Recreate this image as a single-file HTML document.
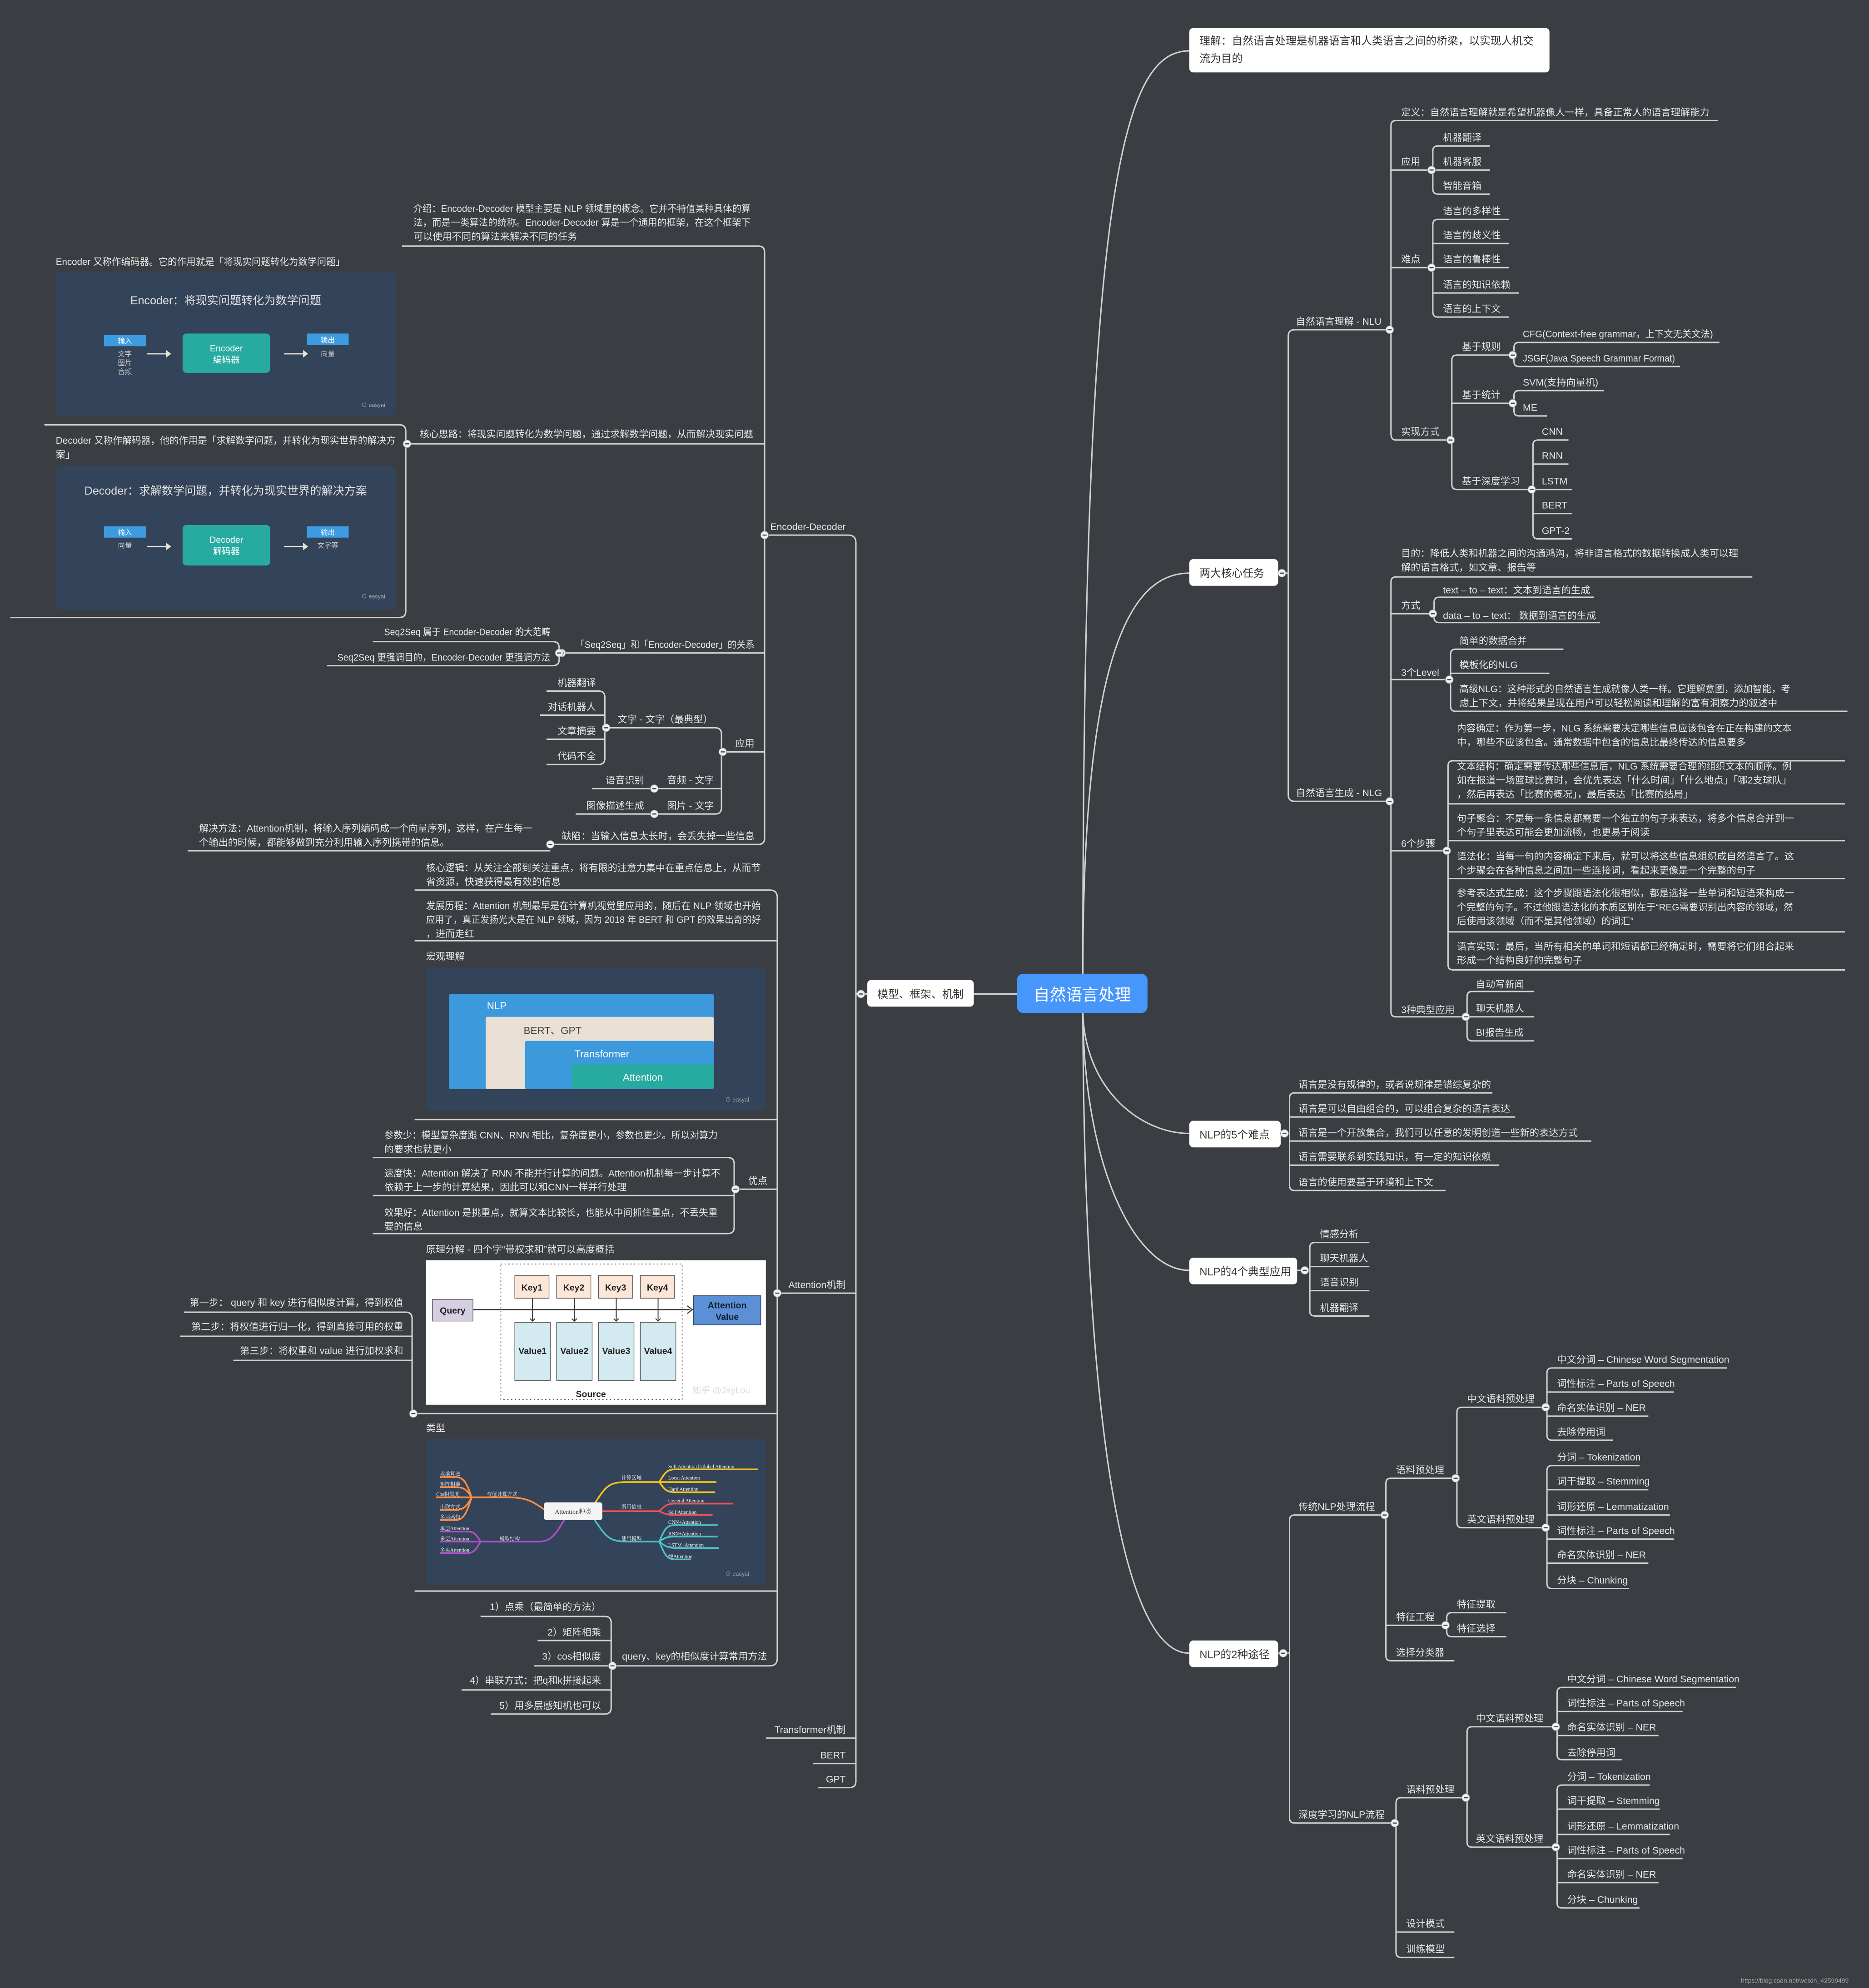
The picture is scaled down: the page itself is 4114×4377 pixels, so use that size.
<!DOCTYPE html>
<html><head><meta charset="utf-8"><style>
html,body{margin:0;padding:0;background:#3a3d42;}
svg{display:block}
.t{font-family:"Liberation Sans","Noto Sans CJK SC",sans-serif;font-size:7.6px;fill:#e6e6e6}
.e{text-anchor:end}
.n{font-family:"Liberation Sans","Noto Sans CJK SC",sans-serif;font-size:8.5px;fill:#333}
.l{stroke:#d2d2d2;stroke-width:1.1;fill:none}
.s{font-family:"Liberation Sans","Noto Sans CJK SC",sans-serif}
</style></head><body>
<svg width="4114" height="4377" viewBox="0 0 1474 1568" xmlns="http://www.w3.org/2000/svg">
<defs>
<g id="d"><circle r="3.1" fill="#f2f2f2" stroke="#888" stroke-width=".4"/><line x1="-1.6" x2="1.6" stroke="#444" stroke-width=".9"/></g>
</defs>
<rect width="1474" height="1568" fill="#3a3d42"/>

<!-- central curves -->
<path class="l" d="M854,768 C854,150 885,40 938,40"/>
<path class="l" d="M854,768 C854,520 890,452 938,452"/>
<path class="l" d="M854,799 C856,860 900,894 938,894"/>
<path class="l" d="M854,799 C855,920 895,1002 938,1002"/>
<path class="l" d="M854,799 C855,1100 882,1304 938,1304"/>
<path class="l" d="M768,784 H802"/>

<!-- central node -->
<rect x="802" y="768" width="103" height="31" rx="5" fill="#4796fa"/>
<text x="853.5" y="789" text-anchor="middle" class="s" font-size="12.8" fill="#fff">自然语言处理</text>

<!-- top-level nodes -->
<rect x="938" y="22" width="284" height="35" rx="3" fill="#fff"/>
<text x="946" y="35" class="n" font-size="8.2">理解：自然语言处理是机器语言和人类语言之间的桥梁，以实现人机交</text>
<text x="946" y="49" class="n" font-size="8.2">流为目的</text>
<rect x="938" y="441" width="70" height="21" rx="3" fill="#fff"/><text x="946" y="455" class="n">两大核心任务</text>
<rect x="938" y="884" width="72" height="21" rx="3" fill="#fff"/><text x="946" y="898" class="n">NLP的5个难点</text>
<rect x="938" y="992" width="85" height="21" rx="3" fill="#fff"/><text x="946" y="1006" class="n">NLP的4个典型应用</text>
<rect x="938" y="1294" width="70" height="21" rx="3" fill="#fff"/><text x="946" y="1308" class="n">NLP的2种途径</text>
<rect x="684" y="773" width="84" height="21" rx="3" fill="#fff"/><text x="692" y="787" class="n">模型、框架、机制</text>

<!-- ===== 两大核心任务 ===== -->
<path class="l" d="M1008,452 H1016 M1096,260 H1021 Q1016,260 1016,265 V627 Q1016,632 1021,632 H1097"/>
<text x="1022" y="256" class="t">自然语言理解 - NLU</text>
<text x="1022" y="628" class="t">自然语言生成 - NLG</text>
<!-- NLU -->
<path class="l" d="M1355,95 H1101 Q1097,95 1097,99 V342 Q1097,347 1101,347 H1144 M1097,134 H1129 M1097,211 H1129"/>
<text x="1105" y="91" class="t">定义：自然语言理解就是希望机器像人一样，具备正常人的语言理解能力</text>
<text x="1105" y="130" class="t">应用</text>
<text x="1105" y="207" class="t">难点</text>
<text x="1105" y="343" class="t">实现方式</text>
<path class="l" d="M1175,115 H1134 Q1130,115 1130,119 V149 Q1130,153 1134,153 H1175 M1130,134 H1175"/>
<text x="1138" y="111" class="t">机器翻译</text><text x="1138" y="130" class="t">机器客服</text><text x="1138" y="149" class="t">智能音箱</text>
<path class="l" d="M1190,173 H1134 Q1130,173 1130,177 V246 Q1130,250 1134,250 H1190 M1130,192 H1190 M1130,211 H1190 M1130,231 H1198"/>
<text x="1138" y="169" class="t">语言的多样性</text><text x="1138" y="188" class="t">语言的歧义性</text><text x="1138" y="207" class="t">语言的鲁棒性</text><text x="1138" y="227" class="t">语言的知识依赖</text><text x="1138" y="246" class="t">语言的上下文</text>
<path class="l" d="M1193,280 H1149 Q1145,280 1145,284 V382 Q1145,386 1149,386 H1208 M1145,318 H1193"/>
<text x="1153" y="276" class="t">基于规则</text><text x="1153" y="314" class="t">基于统计</text><text x="1153" y="382" class="t">基于深度学习</text>
<path class="l" d="M1356,270 H1198 Q1194,270 1194,274 V285 Q1194,289 1198,289 H1325"/>
<text x="1201" y="266" class="t" textLength="150" lengthAdjust="spacingAndGlyphs">CFG(Context-free grammar，上下文无关文法)</text>
<text x="1201" y="285" class="t" textLength="120" lengthAdjust="spacingAndGlyphs">JSGF(Java Speech Grammar Format)</text>
<path class="l" d="M1265,308 H1198 Q1194,308 1194,312 V324 Q1194,328 1198,328 H1220"/>
<text x="1201" y="304" class="t">SVM(支持向量机)</text><text x="1201" y="324" class="t">ME</text>
<path class="l" d="M1237,347 H1213 Q1209,347 1209,351 V421 Q1209,425 1213,425 H1240 M1209,366 H1237 M1209,386 H1240 M1209,405 H1240"/>
<text x="1216" y="343" class="t">CNN</text><text x="1216" y="362" class="t">RNN</text><text x="1216" y="382" class="t">LSTM</text><text x="1216" y="401" class="t">BERT</text><text x="1216" y="421" class="t">GPT-2</text>
<!-- NLG -->
<path class="l" d="M1382,455 H1101 Q1097,455 1097,459 V798 Q1097,802 1101,802 H1156 M1097,484 H1130 M1097,536 H1143 M1097,671 H1141"/>
<text x="1105" y="439" class="t">目的：降低人类和机器之间的沟通鸿沟，将非语言格式的数据转换成人类可以理</text>
<text x="1105" y="450" class="t">解的语言格式，如文章、报告等</text>
<text x="1105" y="480" class="t">方式</text>
<text x="1105" y="533" class="t">3个Level</text>
<text x="1105" y="668" class="t">6个步骤</text>
<text x="1105" y="799" class="t">3种典型应用</text>
<path class="l" d="M1257,471 H1135 Q1131,471 1131,475 V487 Q1131,491 1135,491 H1262"/>
<text x="1138" y="468" class="t">text – to – text：文本到语言的生成</text>
<text x="1138" y="488" class="t">data – to – text： 数据到语言的生成</text>
<path class="l" d="M1233,512 H1148 Q1144,512 1144,516 V557 Q1144,561 1148,561 H1457 M1144,531 H1222"/>
<text x="1151" y="508" class="t">简单的数据合并</text><text x="1151" y="527" class="t">模板化的NLG</text>
<text x="1151" y="546" class="t" textLength="261" lengthAdjust="spacingAndGlyphs">高级NLG：这种形式的自然语言生成就像人类一样。它理解意图，添加智能，考</text>
<text x="1151" y="557" class="t">虑上下文，并将结果呈现在用户可以轻松阅读和理解的富有洞察力的叙述中</text>
<path class="l" d="M1455,600 H1146 Q1142,600 1142,604 V761 Q1142,765 1146,765 H1455 M1142,634 H1455 M1142,663 H1455 M1142,693 H1455 M1142,735 H1455"/>
<text x="1149" y="577" class="t" textLength="264" lengthAdjust="spacingAndGlyphs">内容确定：作为第一步，NLG 系统需要决定哪些信息应该包含在正在构建的文本</text>
<text x="1149" y="588" class="t">中，哪些不应该包含。通常数据中包含的信息比最终传达的信息要多</text>
<text x="1149" y="607" class="t" textLength="264" lengthAdjust="spacingAndGlyphs">文本结构：确定需要传达哪些信息后，NLG 系统需要合理的组织文本的顺序。例</text>
<text x="1149" y="618" class="t" textLength="264" lengthAdjust="spacingAndGlyphs">如在报道一场篮球比赛时，会优先表达「什么时间」「什么地点」「哪2支球队」</text>
<text x="1149" y="629" class="t">，然后再表达「比赛的概况」，最后表达「比赛的结局」</text>
<text x="1149" y="648" class="t">句子聚合：不是每一条信息都需要一个独立的句子来表达，将多个信息合并到一</text>
<text x="1149" y="659" class="t">个句子里表达可能会更加流畅，也更易于阅读</text>
<text x="1149" y="678" class="t">语法化：当每一句的内容确定下来后，就可以将这些信息组织成自然语言了。这</text>
<text x="1149" y="689" class="t">个步骤会在各种信息之间加一些连接词，看起来更像是一个完整的句子</text>
<text x="1149" y="707" class="t">参考表达式生成：这个步骤跟语法化很相似，都是选择一些单词和短语来构成一</text>
<text x="1149" y="718" class="t" textLength="265" lengthAdjust="spacingAndGlyphs">个完整的句子。不过他跟语法化的本质区别在于“REG需要识别出内容的领域，然</text>
<text x="1149" y="729" class="t">后使用该领域（而不是其他领域）的词汇”</text>
<text x="1149" y="749" class="t">语言实现：最后，当所有相关的单词和短语都已经确定时，需要将它们组合起来</text>
<text x="1149" y="760" class="t">形成一个结构良好的完整句子</text>
<path class="l" d="M1210,782 H1161 Q1157,782 1157,786 V817 Q1157,821 1161,821 H1210 M1157,802 H1210"/>
<text x="1164" y="779" class="t">自动写新闻</text><text x="1164" y="798" class="t">聊天机器人</text><text x="1164" y="817" class="t">BI报告生成</text>

<!-- ===== 5个难点 ===== -->
<path class="l" d="M1010,894 H1017 M1177,862 H1021 Q1017,862 1017,866 V935 Q1017,939 1021,939 H1140 M1017,881 H1195 M1017,900 H1255 M1017,919 H1182"/>
<text x="1024" y="858" class="t">语言是没有规律的，或者说规律是错综复杂的</text>
<text x="1024" y="877" class="t">语言是可以自由组合的，可以组合复杂的语言表达</text>
<text x="1024" y="896" class="t">语言是一个开放集合，我们可以任意的发明创造一些新的表达方式</text>
<text x="1024" y="915" class="t">语言需要联系到实践知识，有一定的知识依赖</text>
<text x="1024" y="935" class="t">语言的使用要基于环境和上下文</text>

<!-- ===== 4个应用 ===== -->
<path class="l" d="M1023,1002 H1033 M1080,980 H1037 Q1033,980 1033,984 V1034 Q1033,1038 1037,1038 H1080 M1033,999 H1080 M1033,1018 H1080"/>
<text x="1041" y="976" class="t">情感分析</text><text x="1041" y="995" class="t">聊天机器人</text><text x="1041" y="1014" class="t">语音识别</text><text x="1041" y="1034" class="t">机器翻译</text>

<!-- ===== 2种途径 ===== -->
<path class="l" d="M1008,1304 H1017 M1092,1195 H1021 Q1017,1195 1017,1199 V1434 Q1017,1438 1021,1438 H1100"/>
<text x="1024" y="1191" class="t">传统NLP处理流程</text>
<text x="1024" y="1434" class="t">深度学习的NLP流程</text>
<path class="l" d="M1148,1166 H1097 Q1093,1166 1093,1170 V1306 Q1093,1310 1097,1310 H1147 M1093,1282 H1140"/>
<text x="1101" y="1162" class="t">语料预处理</text><text x="1101" y="1278" class="t">特征工程</text><text x="1101" y="1306" class="t">选择分类器</text>
<path class="l" d="M1219,1110 H1153 Q1149,1110 1149,1114 V1201 Q1149,1205 1153,1205 H1219"/>
<text x="1157" y="1106" class="t">中文语料预处理</text><text x="1157" y="1201" class="t">英文语料预处理</text>
<path class="l" d="M1362,1079 H1224 Q1220,1079 1220,1083 V1132 Q1220,1136 1224,1136 H1272 M1220,1098 H1320 M1220,1117 H1300"/>
<text x="1228" y="1075" class="t">中文分词 – Chinese Word Segmentation</text>
<text x="1228" y="1094" class="t">词性标注 – Parts of Speech</text>
<text x="1228" y="1113" class="t">命名实体识别 – NER</text>
<text x="1228" y="1132" class="t">去除停用词</text>
<path class="l" d="M1293,1156 H1224 Q1220,1156 1220,1160 V1249 Q1220,1253 1224,1253 H1285 M1220,1175 H1300 M1220,1195 H1317 M1220,1214 H1320 M1220,1233 H1300"/>
<text x="1228" y="1152" class="t">分词 – Tokenization</text>
<text x="1228" y="1171" class="t">词干提取 – Stemming</text>
<text x="1228" y="1191" class="t">词形还原 – Lemmatization</text>
<text x="1228" y="1210" class="t">词性标注 – Parts of Speech</text>
<text x="1228" y="1229" class="t">命名实体识别 – NER</text>
<text x="1228" y="1249" class="t">分块 – Chunking</text>
<path class="l" d="M1188,1272 H1145 Q1141,1272 1141,1276 V1287 Q1141,1291 1145,1291 H1188"/>
<text x="1149" y="1268" class="t">特征提取</text><text x="1149" y="1287" class="t">特征选择</text>
<path class="l" d="M1156,1418 H1105 Q1101,1418 1101,1422 V1540 Q1101,1544 1105,1544 H1147 M1101,1524 H1147"/>
<text x="1109" y="1414" class="t">语料预处理</text><text x="1109" y="1520" class="t">设计模式</text><text x="1109" y="1540" class="t">训练模型</text>
<path class="l" d="M1227,1362 H1161 Q1157,1362 1157,1366 V1453 Q1157,1457 1161,1457 H1227"/>
<text x="1164" y="1358" class="t">中文语料预处理</text><text x="1164" y="1453" class="t">英文语料预处理</text>
<path class="l" d="M1369,1331 H1232 Q1228,1331 1228,1335 V1384 Q1228,1388 1232,1388 H1279 M1228,1350 H1327 M1228,1369 H1308"/>
<text x="1236" y="1327" class="t">中文分词 – Chinese Word Segmentation</text>
<text x="1236" y="1346" class="t">词性标注 – Parts of Speech</text>
<text x="1236" y="1365" class="t">命名实体识别 – NER</text>
<text x="1236" y="1385" class="t">去除停用词</text>
<path class="l" d="M1301,1408 H1232 Q1228,1408 1228,1412 V1501 Q1228,1505 1232,1505 H1293 M1228,1427 H1309 M1228,1447 H1317 M1228,1466 H1327 M1228,1485 H1308"/>
<text x="1236" y="1404" class="t">分词 – Tokenization</text>
<text x="1236" y="1423" class="t">词干提取 – Stemming</text>
<text x="1236" y="1443" class="t">词形还原 – Lemmatization</text>
<text x="1236" y="1462" class="t">词性标注 – Parts of Speech</text>
<text x="1236" y="1481" class="t">命名实体识别 – NER</text>
<text x="1236" y="1501" class="t">分块 – Chunking</text>

<!-- ===== LEFT: 模型、框架、机制 ===== -->
<path class="l" d="M684,784 H675 M603,422 H669 Q675,422 675,428 V1405 Q675,1410 670,1410 H645 M613,1020 H675 M604,1371 H675 M641,1391 H675"/>
<text x="667" y="418" class="t e">Encoder-Decoder</text>
<text x="667" y="1016" class="t e">Attention机制</text>
<text x="667" y="1367" class="t e">Transformer机制</text>
<text x="667" y="1387" class="t e">BERT</text>
<text x="667" y="1406" class="t e">GPT</text>

<!-- Encoder-Decoder -->
<path class="l" d="M317,194 H598 Q603,194 603,199 V661 Q603,666 598,666 H433 M321,350 H603 M443,515 H603 M570,593 H603"/>
<text x="326" y="167" class="t" textLength="266" lengthAdjust="spacingAndGlyphs">介绍：Encoder-Decoder 模型主要是 NLP 领域里的概念。它并不特值某种具体的算</text>
<text x="326" y="178" class="t" textLength="266" lengthAdjust="spacingAndGlyphs">法，而是一类算法的统称。Encoder-Decoder 算是一个通用的框架，在这个框架下</text>
<text x="326" y="189" class="t">可以使用不同的算法来解决不同的任务</text>
<text x="331" y="345" class="t" textLength="263" lengthAdjust="spacingAndGlyphs">核心思路：将现实问题转化为数学问题，通过求解数学问题，从而解决现实问题</text>
<text x="595" y="511" class="t e" textLength="141" lengthAdjust="spacingAndGlyphs">「Seq2Seq」和「Encoder-Decoder」的关系</text>
<text x="595" y="589" class="t e">应用</text>
<text x="595" y="662" class="t e">缺陷：当输入信息太长时，会丢失掉一些信息</text>

<path class="l" d="M35,335 H315 Q320,335 320,340 V482 Q320,487 315,487 H8"/>
<text x="44" y="209" class="t" textLength="228" lengthAdjust="spacingAndGlyphs">Encoder 又称作编码器。它的作用就是「将现实问题转化为数学问题」</text>
<text x="44" y="350" class="t" textLength="268" lengthAdjust="spacingAndGlyphs">Decoder 又称作解码器，他的作用是「求解数学问题，并转化为现实世界的解决方</text>
<text x="44" y="361" class="t">案」</text>
<!-- encoder image -->
<rect x="44" y="214" width="268" height="114" rx="4" fill="#334359"/>
<text x="178" y="240" text-anchor="middle" class="s" font-size="9" fill="#e0e0e0">Encoder：将现实问题转化为数学问题</text>
<rect x="82" y="264" width="33" height="9" fill="#3d9be0"/><text x="98.5" y="270.8" text-anchor="middle" class="s" font-size="5.5" fill="#fff">输入</text>
<text x="98.5" y="281" text-anchor="middle" class="s" font-size="5.5" fill="#ccc">文字</text><text x="98.5" y="288" text-anchor="middle" class="s" font-size="5.5" fill="#ccc">图片</text><text x="98.5" y="295" text-anchor="middle" class="s" font-size="5.5" fill="#ccc">音频</text>
<path d="M116,279 H132" stroke="#e8e0d5" stroke-width="1"/><path d="M131,276 L135,279 L131,282Z" fill="#e8e0d5"/>
<rect x="144" y="263" width="69" height="31" rx="3" fill="#27aba0"/>
<text x="178.5" y="277" text-anchor="middle" class="s" font-size="7" fill="#fff">Encoder</text><text x="178.5" y="286" text-anchor="middle" class="s" font-size="7" fill="#fff">编码器</text>
<path d="M224,279 H240" stroke="#e8e0d5" stroke-width="1"/><path d="M239,276 L243,279 L239,282Z" fill="#e8e0d5"/>
<rect x="242" y="263" width="33" height="9" fill="#3d9be0"/><text x="258.5" y="270" text-anchor="middle" class="s" font-size="5.5" fill="#fff">输出</text>
<text x="258.5" y="281" text-anchor="middle" class="s" font-size="5.5" fill="#ccc">向量</text>
<text x="285" y="321" class="s" font-size="4.5" fill="#aaa">⊙ easyai</text>
<!-- decoder image -->
<rect x="44" y="367" width="268" height="114" rx="4" fill="#334359"/>
<text x="178" y="390" text-anchor="middle" class="s" font-size="9" fill="#e0e0e0">Decoder：求解数学问题，并转化为现实世界的解决方案</text>
<rect x="82" y="415" width="33" height="9" fill="#3d9be0"/><text x="98.5" y="421.8" text-anchor="middle" class="s" font-size="5.5" fill="#fff">输入</text>
<text x="98.5" y="432" text-anchor="middle" class="s" font-size="5.5" fill="#ccc">向量</text>
<path d="M116,431 H132" stroke="#e8e0d5" stroke-width="1"/><path d="M131,428 L135,431 L131,434Z" fill="#e8e0d5"/>
<rect x="144" y="414" width="69" height="32" rx="3" fill="#27aba0"/>
<text x="178.5" y="428" text-anchor="middle" class="s" font-size="7" fill="#fff">Decoder</text><text x="178.5" y="437" text-anchor="middle" class="s" font-size="7" fill="#fff">解码器</text>
<path d="M224,431 H240" stroke="#e8e0d5" stroke-width="1"/><path d="M239,428 L243,431 L239,434Z" fill="#e8e0d5"/>
<rect x="242" y="415" width="33" height="9" fill="#3d9be0"/><text x="258.5" y="421.8" text-anchor="middle" class="s" font-size="5.5" fill="#fff">输出</text>
<text x="258.5" y="432" text-anchor="middle" class="s" font-size="5.5" fill="#ccc">文字等</text>
<text x="285" y="472" class="s" font-size="4.5" fill="#aaa">⊙ easyai</text>

<!-- seq2seq -->
<path class="l" d="M294,506 H436 Q441,506 441,511 V520 Q441,525 436,525 H258"/>
<text x="434" y="501" class="t e" textLength="131" lengthAdjust="spacingAndGlyphs">Seq2Seq 属于 Encoder-Decoder 的大范畴</text>
<text x="434" y="521" class="t e" textLength="168" lengthAdjust="spacingAndGlyphs">Seq2Seq 更强调目的，Encoder-Decoder 更强调方法</text>
<!-- 应用 -->
<path class="l" d="M478,574 H564 Q569,574 569,579 V637 Q569,642 564,642 H516 M516,622 H569"/>
<text x="487" y="570" class="t">文字 - 文字（最典型）</text>
<text x="526" y="618" class="t">音频 - 文字</text>
<text x="526" y="638" class="t">图片 - 文字</text>
<path class="l" d="M431,545 H472 Q477,545 477,550 V598 Q477,603 472,603 H431 M426,564 H477 M431,583 H477"/>
<text x="470" y="541" class="t e">机器翻译</text><text x="470" y="560" class="t e">对话机器人</text><text x="470" y="579" class="t e">文章摘要</text><text x="470" y="599" class="t e">代码不全</text>
<path class="l" d="M467,622 H516 M454,642 H516"/>
<text x="508" y="618" class="t e">语音识别</text><text x="508" y="638" class="t e">图像描述生成</text>
<path class="l" d="M148,671 H434"/>
<text x="157" y="656" class="t" textLength="263" lengthAdjust="spacingAndGlyphs">解决方法：Attention机制，将输入序列编码成一个向量序列，这样，在产生每一</text>
<text x="157" y="667" class="t">个输出的时候，都能够做到充分利用输入序列携带的信息。</text>

<!-- Attention机制 -->
<path class="l" d="M327,702 H607 Q613,702 613,708 V1308 Q613,1314 607,1314 H483 M327,742 H613 M327,883 H613 M580,938 H613 M326,1115 H613 M327,1255 H613"/>
<text x="336" y="687" class="t" textLength="264" lengthAdjust="spacingAndGlyphs">核心逻辑：从关注全部到关注重点，将有限的注意力集中在重点信息上，从而节</text>
<text x="336" y="698" class="t">省资源，快速获得最有效的信息</text>
<text x="336" y="717" class="t" textLength="264" lengthAdjust="spacingAndGlyphs">发展历程：Attention 机制最早是在计算机视觉里应用的，随后在 NLP 领域也开始</text>
<text x="336" y="728" class="t" textLength="264" lengthAdjust="spacingAndGlyphs">应用了，真正发扬光大是在 NLP 领域，因为 2018 年 BERT 和 GPT 的效果出奇的好</text>
<text x="336" y="739" class="t">，进而走红</text>
<text x="336" y="757" class="t">宏观理解</text>
<text x="590" y="934" class="t">优点</text>
<text x="336" y="988" class="t">原理分解 - 四个字“带权求和”就可以高度概括</text>
<text x="336" y="1129" class="t">类型</text>
<text x="605" y="1309" class="t e">query、key的相似度计算常用方法</text>

<!-- 宏观 image -->
<rect x="336" y="763" width="268" height="113" rx="4" fill="#334359"/>
<rect x="354" y="784" width="209" height="75" rx="1.5" fill="#3b99dc"/>
<text x="384" y="796" class="s" font-size="8" fill="#fff">NLP</text>
<rect x="383" y="802" width="180" height="57" rx="1.5" fill="#e8e0d5"/>
<text x="413" y="815.5" class="s" font-size="8" fill="#444">BERT、GPT</text>
<rect x="414" y="821" width="149" height="38" rx="1.5" fill="#3b99dc"/>
<text x="453" y="834" class="s" font-size="8" fill="#fff">Transformer</text>
<rect x="451" y="839.5" width="112" height="19" rx="1.5" fill="#27aba0"/>
<text x="507" y="852.5" text-anchor="middle" class="s" font-size="8" fill="#fff">Attention</text>
<text x="572" y="869" class="s" font-size="4.5" fill="#aaa">⊙ easyai</text>

<!-- 优点 -->
<path class="l" d="M294,913 H574 Q579,913 579,918 V968 Q579,973 574,973 H294 M294,943 H579"/>
<text x="303" y="898" class="t" textLength="263" lengthAdjust="spacingAndGlyphs">参数少：模型复杂度跟 CNN、RNN 相比，复杂度更小，参数也更少。所以对算力</text>
<text x="303" y="909" class="t">的要求也就更小</text>
<text x="303" y="928" class="t" textLength="265" lengthAdjust="spacingAndGlyphs">速度快：Attention 解决了 RNN 不能并行计算的问题。Attention机制每一步计算不</text>
<text x="303" y="939" class="t">依赖于上一步的计算结果，因此可以和CNN一样并行处理</text>
<text x="303" y="959" class="t" textLength="263" lengthAdjust="spacingAndGlyphs">效果好：Attention 是挑重点，就算文本比较长，也能从中间抓住重点，不丢失重</text>
<text x="303" y="970" class="t">要的信息</text>

<!-- 原理分解 image -->
<rect x="336" y="994" width="268" height="114" fill="#fff"/>
<rect x="395" y="997" width="143" height="107" fill="none" stroke="#444" stroke-width=".6" stroke-dasharray="1,2"/>
<rect x="341" y="1025" width="32" height="17" fill="#d6cfe2" stroke="#555" stroke-width=".5"/>
<text x="357" y="1036" text-anchor="middle" class="s" font-size="7" font-weight="bold" fill="#222">Query</text>
<line x1="373" y1="1033" x2="544" y2="1033" stroke="#333" stroke-width="1"/>
<path d="M542,1030 L546,1033 L542,1036" fill="none" stroke="#333" stroke-width=".8"/>
<g class="s" font-size="7" font-weight="bold" fill="#222" text-anchor="middle">
<rect x="406" y="1006" width="27" height="18" fill="#fbe6d8" stroke="#555" stroke-width=".5"/><text x="419.5" y="1018">Key1</text>
<rect x="439" y="1006" width="27" height="18" fill="#fbe6d8" stroke="#555" stroke-width=".5"/><text x="452.5" y="1018">Key2</text>
<rect x="472" y="1006" width="27" height="18" fill="#fbe6d8" stroke="#555" stroke-width=".5"/><text x="485.5" y="1018">Key3</text>
<rect x="505" y="1006" width="27" height="18" fill="#fbe6d8" stroke="#555" stroke-width=".5"/><text x="518.5" y="1018">Key4</text>
<rect x="406" y="1043" width="28" height="46" fill="#d2eaf0" stroke="#555" stroke-width=".5"/><text x="420" y="1068">Value1</text>
<rect x="439" y="1043" width="28" height="46" fill="#d2eaf0" stroke="#555" stroke-width=".5"/><text x="453" y="1068">Value2</text>
<rect x="472" y="1043" width="28" height="46" fill="#d2eaf0" stroke="#555" stroke-width=".5"/><text x="486" y="1068">Value3</text>
<rect x="505" y="1043" width="28" height="46" fill="#d2eaf0" stroke="#555" stroke-width=".5"/><text x="519" y="1068">Value4</text>
<text x="466" y="1102">Source</text>
</g>
<g stroke="#333" stroke-width=".7" fill="none">
<path d="M420,1024 V1042 M418,1040 L420,1042 L422,1040"/><path d="M453,1024 V1042 M451,1040 L453,1042 L455,1040"/>
<path d="M486,1024 V1042 M484,1040 L486,1042 L488,1040"/><path d="M519,1024 V1042 M517,1040 L519,1042 L521,1040"/>
</g>
<rect x="547" y="1022" width="53" height="23" fill="#5b8fd6" stroke="#345" stroke-width=".5"/>
<text x="573.5" y="1032" text-anchor="middle" class="s" font-size="7" font-weight="bold" fill="#123">Attention</text>
<text x="573.5" y="1041" text-anchor="middle" class="s" font-size="7" font-weight="bold" fill="#123">Value</text>
<text x="546" y="1099" class="s" font-size="7" fill="#ddd">知乎 @JayLou</text>

<!-- 第一步 -->
<path class="l" d="M145,1035 H320 Q325,1035 325,1040 V1115 M142,1054 H325 M184,1073 H325"/>
<text x="318" y="1030" class="t e">第一步： query 和 key 进行相似度计算，得到权值</text>
<text x="318" y="1049" class="t e">第二步：将权值进行归一化，得到直接可用的权重</text>
<text x="318" y="1068" class="t e">第三步：将权重和 value 进行加权求和</text>

<!-- 类型 image -->
<rect x="336" y="1135" width="268" height="115" rx="4" fill="#334359"/>
<g fill="none" stroke-width="1.3">
<path d="M431,1192 C420,1184 415,1181 400,1181 H372 M372,1181 C368,1170 366,1165 359,1165 H347 M372,1181 C368,1175 366,1173 359,1173 H347 M372,1181 H344 M372,1181 C368,1188 366,1191 359,1191 H347 M372,1181 C368,1193 366,1199 359,1199 H347" stroke="#ff8c42"/>
<path d="M445,1199 C438,1210 435,1216 425,1216 H379 M379,1216 C376,1211 374,1208 369,1208 H347 M379,1216 H347 M379,1216 C376,1221 374,1225 369,1225 H347" stroke="#b04fc8"/>
<path d="M469,1186 C478,1172 480,1169 495,1169 H520 M520,1169 C524,1162 526,1159 532,1159 H598 M520,1169 H565 M520,1169 C524,1175 526,1177 532,1177 H564" stroke="#f5c518"/>
<path d="M475,1192 H520 M520,1192 C524,1188 526,1186 532,1186 H578 M520,1192 C524,1194 526,1195 532,1195 H562" stroke="#f0505a"/>
<path d="M469,1199 C478,1212 480,1216 495,1216 H520 M520,1216 C524,1206 526,1203 532,1203 H566 M520,1216 C524,1213 526,1212 532,1212 H566 M520,1216 C524,1219 526,1221 532,1221 H567 M520,1216 C524,1226 526,1230 532,1230 H545" stroke="#4ec0c8"/>
</g>
<rect x="429" y="1185" width="46" height="14" rx="2" fill="#f4f4f4"/>
<g font-family="Liberation Serif,Noto Serif CJK SC,serif" font-size="4" fill="#eee">
<text x="452" y="1194" text-anchor="middle" fill="#333" font-size="5">Attention种类</text>
<text x="384" y="1180">权值计算方式</text><text x="394" y="1215">模型结构</text>
<text x="490" y="1167">计算区域</text><text x="490" y="1190">所用信息</text><text x="490" y="1215">使用模型</text>
<text x="347" y="1164">点乘算法</text><text x="347" y="1172">矩阵相乘</text><text x="344" y="1180">Cos相似度</text><text x="347" y="1190">串联方式</text><text x="347" y="1198">多层感知</text>
<text x="347" y="1207">单层Attention</text><text x="347" y="1215">多层Attention</text><text x="347" y="1224">多头Attention</text>
<text x="527" y="1158">Soft Attention | Global Attention</text><text x="527" y="1167">Local Attention</text><text x="527" y="1176">Hard Attention</text>
<text x="527" y="1185">General Attention</text><text x="527" y="1194">Self Attention</text>
<text x="527" y="1202">CNN+Attention</text><text x="527" y="1211">RNN+Attention</text><text x="527" y="1220">LSTM+Attention</text><text x="527" y="1229">纯Attention</text>
</g>
<text x="572" y="1243" class="s" font-size="4.5" fill="#aaa">⊙ easyai</text>

<!-- query key methods -->
<path class="l" d="M379,1275 H477 Q482,1275 482,1280 V1347 Q482,1352 477,1352 H387 M424,1294 H482 M421,1314 H483 M364,1333 H482"/>
<text x="474" y="1270" class="t e">1）点乘（最简单的方法）</text>
<text x="474" y="1290" class="t e">2）矩阵相乘</text>
<text x="474" y="1309" class="t e">3）cos相似度</text>
<text x="474" y="1328" class="t e">4）串联方式：把q和k拼接起来</text>
<text x="474" y="1348" class="t e">5）用多层感知机也可以</text>

<!-- dots -->
<use href="#d" x="1011" y="452"/><use href="#d" x="1096" y="260"/><use href="#d" x="1129" y="134"/><use href="#d" x="1129" y="211"/>
<use href="#d" x="1144" y="347"/><use href="#d" x="1193" y="280"/><use href="#d" x="1193" y="318"/><use href="#d" x="1208" y="386"/>
<use href="#d" x="1096" y="632"/><use href="#d" x="1130" y="484"/><use href="#d" x="1143" y="536"/><use href="#d" x="1141" y="671"/>
<use href="#d" x="1156" y="802"/><use href="#d" x="1013" y="894"/><use href="#d" x="1029" y="1002"/><use href="#d" x="1012" y="1304"/>
<use href="#d" x="1092" y="1195"/><use href="#d" x="1148" y="1166"/><use href="#d" x="1219" y="1110"/><use href="#d" x="1219" y="1205"/>
<use href="#d" x="1140" y="1282"/><use href="#d" x="1100" y="1438"/><use href="#d" x="1156" y="1418"/><use href="#d" x="1227" y="1362"/>
<use href="#d" x="1227" y="1457"/><use href="#d" x="679" y="784"/><use href="#d" x="603" y="422"/><use href="#d" x="613" y="1020"/>
<use href="#d" x="321" y="350"/><use href="#d" x="443" y="515"/><use href="#d" x="570" y="593"/><use href="#d" x="478" y="574"/>
<use href="#d" x="516" y="622"/><use href="#d" x="516" y="642"/><use href="#d" x="434" y="666"/><use href="#d" x="580" y="938"/>
<use href="#d" x="326" y="1115"/><use href="#d" x="483" y="1314"/><use href="#d" x="441" y="515"/>

<text x="1373" y="1564" class="s" font-size="5" fill="#aaa">https://blog.csdn.net/weixin_42599499</text>
</svg>
</body></html>
